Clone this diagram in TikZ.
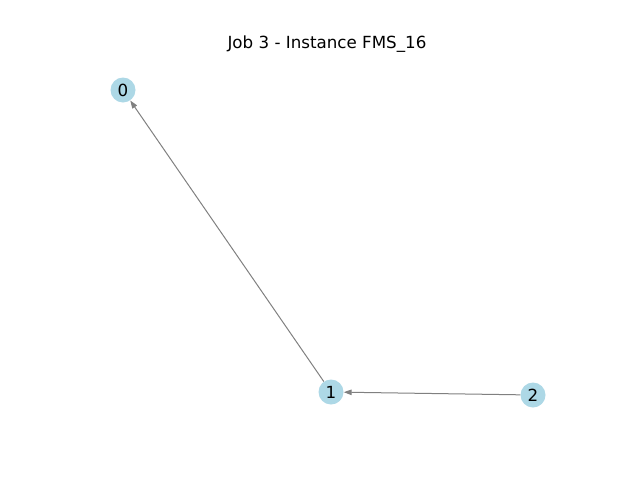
\documentclass[tikz,border=0pt]{standalone}
\usepackage{fontspec}
\setmainfont{DejaVu Sans}
\usepackage{tikz}
\usetikzlibrary{arrows.meta}
\usetikzlibrary{positioning}

\definecolor{lightblue}{HTML}{ADD8E6}
\tikzset{
  job/.style={circle, fill=lightblue, inner sep=0pt, minimum size=25pt, font=\fontsize{16.7}{18}\selectfont},
  edge/.style={draw=gray, line width=1pt, -{Triangle[length=8pt, width=5.5pt]}}
}

\begin{document}
\begin{tikzpicture}[x=1pt, y=-1pt]
        \useasboundingbox (0,0) rectangle (640,480);
        \node [font=\fontsize{16.7}{18}\selectfont] (title) at (327,44) {Job 3 - Instance FMS\_16};
        \node [job] (n0) at (123,90) {0};
        \node [job] (n1) at (331,392) {1};
        \node [job] (n2) at (533,395) {2};

        \draw [edge] (n1) -- (n0);
        \draw [edge] (n2) -- (n1);
    \end{tikzpicture}
\end{document}
